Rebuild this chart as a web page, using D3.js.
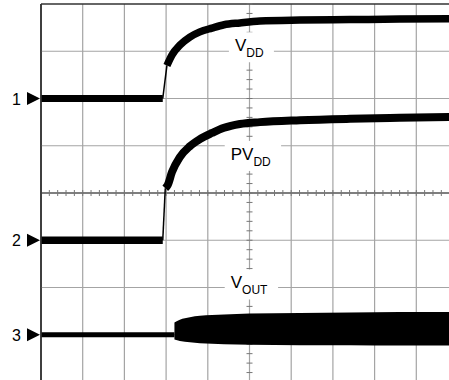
<!DOCTYPE html>
<html><head><meta charset="utf-8">
<script src="https://cdn.jsdelivr.net/npm/d3@7"></script>
<style>html,body{margin:0;padding:0;background:#fff;}svg{display:block;font-family:"Liberation Sans",Arial,sans-serif;}</style>
</head><body>
<script>
// time in divisions (0..10), amplitude in divisions (-4..4)
const xDivs = [0,1,2,3,4,5,6,7,8,9,10];
const yDivs = [-4,-3,-2,-1,0,1,2,3,4];
const channelMarkers = ["1","2","3"];
const markerLevels = [2.0, -1.0, -3.0];

const vddFlat  = [[0,2.0],[2.92,2.0]];
const vddCurve = [[3.02,2.70],[3.14,2.92],[3.33,3.13],[3.57,3.30],[3.81,3.41],[4.10,3.49],[4.39,3.56],[4.77,3.60],[5.25,3.64],[6.21,3.66],[7.41,3.67],[8.6,3.68],[10,3.69]];
const pvddFlat  = [[0,-1.0],[2.92,-1.0]];
const pvddCurve = [[2.98,0.10],[3.04,0.17],[3.14,0.44],[3.33,0.76],[3.57,0.99],[3.81,1.14],[4.10,1.27],[4.39,1.38],[4.77,1.46],[5.25,1.50],[6.21,1.54],[7.41,1.57],[8.6,1.59],[10,1.61]];
const voutFlat = [[0,-3.0],[3.2,-3.0]];
const voutBandX     = [3.2, 3.33, 3.57, 3.81, 4.39, 5.0, 6.21, 7.41, 8.6, 10];
const voutBandUpper = [-2.74,-2.68,-2.63,-2.60,-2.57,-2.55,-2.54,-2.53,-2.52,-2.52];
const voutBandLower = [-3.10,-3.13,-3.16,-3.18,-3.20,-3.21,-3.22,-3.22,-3.23,-3.23];

const labels = [
  {main:"V", sub:"DD", t:4.65, v:3.0},
  {main:"PV", sub:"DD", t:4.55, v:0.70},
  {main:"V", sub:"OUT", t:4.55, v:-2.02}
];

const W=449,H=380;
const x = d3.scaleLinear().domain([0,10]).range([41,458]);
const y = d3.scaleLinear().domain([-4,4]).range([382,4]);

const svg = d3.select("body").append("svg").attr("width",W).attr("height",H);

// grid
svg.append("g").selectAll("line").data(xDivs).join("line")
  .attr("x1",d=>x(d)).attr("x2",d=>x(d)).attr("y1",y(4)).attr("y2",H)
  .attr("stroke",d=>d===0?"#333":"#a4a4a4").attr("stroke-width",d=>d===0?1.5:1.2);
svg.append("g").selectAll("line").data(yDivs).join("line")
  .attr("y1",d=>y(d)).attr("y2",d=>y(d)).attr("x1",x(0)).attr("x2",W)
  .attr("stroke",d=>d===4?"#333":(d===0?"#555":"#a4a4a4")).attr("stroke-width",d=>d===4?1.5:(d===0?1.5:1.2));

// minor ticks on center axes
const minor = d3.range(0,10.01,0.2);
svg.append("g").selectAll("line").data(minor).join("line")
  .attr("x1",d=>x(d)).attr("x2",d=>x(d)).attr("y1",y(0)-3).attr("y2",y(0)+3)
  .attr("stroke","#777").attr("stroke-width",1);
const minorY = d3.range(-4,4.01,0.2);
svg.append("g").selectAll("line").data(minorY).join("line")
  .attr("y1",d=>y(d)).attr("y2",d=>y(d)).attr("x1",x(5)-3).attr("x2",x(5)+3)
  .attr("stroke","#777").attr("stroke-width",1);

const line = d3.line().x(d=>x(d[0])).y(d=>y(d[1]));
const curveLine = d3.line().x(d=>x(d[0])).y(d=>y(d[1])).curve(d3.curveMonotoneX);

// label boxes (white) drawn before traces
labels.forEach(l=>{
  const g = svg.append("g");
  const t = g.append("text").attr("x",x(l.t)).attr("y",y(l.v)).attr("font-size",17).attr("fill","#000");
  t.append("tspan").text(l.main);
  t.append("tspan").attr("dy",6).attr("font-size",12).text(l.sub);
  const b = t.node().getBBox();
  g.insert("rect","text").attr("x",b.x-6).attr("y",b.y-4).attr("width",b.width+16).attr("height",b.height+6).attr("fill","#fff");
});

// traces
function trace(flat, curve, w){
  svg.append("path").attr("d",line(flat)).attr("fill","none").attr("stroke","#000").attr("stroke-width",w);
  svg.append("path").attr("d",line([flat[flat.length-1],curve[0]])).attr("fill","none").attr("stroke","#000").attr("stroke-width",1.5);
  svg.append("path").attr("d",curveLine(curve)).attr("fill","none").attr("stroke","#000").attr("stroke-width",w+0.5);
}
trace(vddFlat, vddCurve, 7);
trace(pvddFlat, pvddCurve, 7.5);

svg.append("path").attr("d",line(voutFlat)).attr("fill","none").attr("stroke","#000").attr("stroke-width",5);
const area = d3.area().x((d,i)=>x(voutBandX[i])).y0((d,i)=>y(voutBandLower[i])).y1((d,i)=>y(voutBandUpper[i])).curve(d3.curveMonotoneX);
svg.append("path").attr("d",area(voutBandX)).attr("fill","#000");

// left border on top
svg.append("line").attr("x1",x(0)).attr("x2",x(0)).attr("y1",y(4)).attr("y2",H).attr("stroke","#333").attr("stroke-width",1.5);

// channel markers
channelMarkers.forEach((m,i)=>{
  const cy = y(markerLevels[i]);
  svg.append("text").attr("x",21).attr("y",cy+6).attr("text-anchor","end").attr("font-size",16).text(m);
  svg.append("path").attr("d",`M27,${cy-6.5}L40,${cy}L27,${cy+6.5}Z`).attr("fill","#000");
});
</script>
</body></html>
